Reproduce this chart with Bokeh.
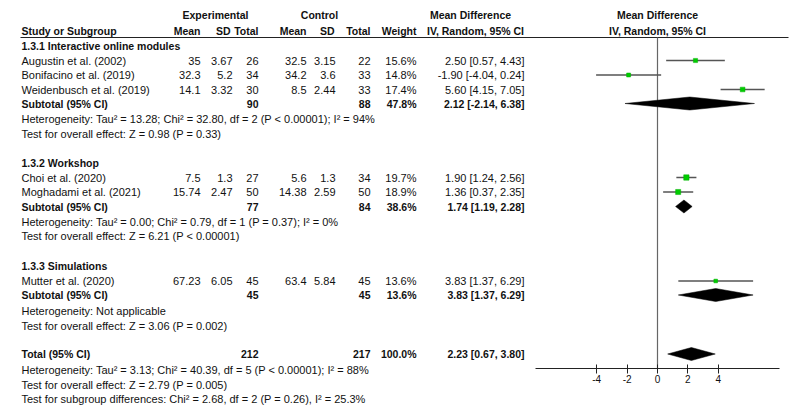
from bokeh.plotting import figure
from bokeh.models import Range1d, LinearAxis, FixedTicker, ColumnDataSource, NumeralTickFormatter
from bokeh.embed import file_html
from bokeh.resources import INLINE
from bokeh.core.properties import value

# ---------------- data ----------------
studies = ["Augustin et al. (2002)", "Bonifacino et al. (2019)", "Weidenbusch et al. (2019)",
           "Choi et al. (2020)", "Moghadami et al. (2021)", "Mutter et al. (2020)"]
exp_mean = [35, 32.3, 14.1, 7.5, 15.74, 67.23]
exp_sd = [3.67, 5.2, 3.32, 1.3, 2.47, 6.05]
exp_n = [26, 34, 30, 27, 50, 45]
ctl_mean = [32.5, 34.2, 8.5, 5.6, 14.38, 63.4]
ctl_sd = [3.15, 3.6, 2.44, 1.3, 2.59, 5.84]
ctl_n = [22, 33, 33, 34, 50, 45]
weight = [15.6, 14.8, 17.4, 19.7, 18.9, 13.6]
md = [2.50, -1.90, 5.60, 1.90, 1.36, 3.83]
md_lo = [0.57, -4.04, 4.15, 1.24, 0.37, 1.37]
md_hi = [4.43, 0.24, 7.05, 2.56, 2.35, 6.29]

subgroups = ["1.3.1 Interactive online modules", "1.3.2 Workshop", "1.3.3 Simulations"]
sub_exp_n = [90, 77, 45]
sub_ctl_n = [88, 84, 45]
sub_weight = [47.8, 38.6, 13.6]
sub_md = [2.12, 1.74, 3.83]
sub_lo = [-2.14, 1.19, 1.37]
sub_hi = [6.38, 2.28, 6.29]
sub_het = ["Heterogeneity: Tau\u00b2 = 13.28; Chi\u00b2 = 32.80, df = 2 (P < 0.00001); I\u00b2 = 94%",
           "Heterogeneity: Tau\u00b2 = 0.00; Chi\u00b2 = 0.79, df = 1 (P = 0.37); I\u00b2 = 0%",
           "Heterogeneity: Not applicable"]
sub_test = ["Test for overall effect: Z = 0.98 (P = 0.33)",
            "Test for overall effect: Z = 6.21 (P < 0.00001)",
            "Test for overall effect: Z = 3.06 (P = 0.002)"]

tot_exp_n = 212
tot_ctl_n = 217
tot_weight = 100.0
tot_md = 2.23
tot_lo = 0.67
tot_hi = 3.80
tot_notes = ["Heterogeneity: Tau\u00b2 = 3.13; Chi\u00b2 = 40.39, df = 5 (P < 0.00001); I\u00b2 = 88%",
             "Test for overall effect: Z = 2.79 (P = 0.005)",
             "Test for subgroup differences: Chi\u00b2 = 2.68, df = 2 (P = 0.26), I\u00b2 = 25.3%"]

axis_ticks = [-4, -2, 0, 2, 4]
axis_bounds = (-8, 8)

# ---------------- layout ----------------
W, H = 800, 416
X0, PXU = 657, 15.2          # pixel of zero effect, pixels per unit
ROW_STUDY = [60, 74.5, 89, 177, 191.5, 280.5]
ROW_SECTION = [45, 162.5, 265.5]
ROW_SUB = [103, 206, 294.5]
ROW_SUB_HET = [118.5, 221, 310]
ROW_SUB_TEST = [133.5, 235.5, 325]
ROW_TOTAL = 353.5
ROW_TOT_NOTES = [369, 384, 398.5]
HDR1, HDR2, HDR_LINE = 14, 30, 37
AXIS_Y = 368

C_NAME, C_EM, C_ESD, C_EN = 21, 200, 232, 258
C_CM, C_CSD, C_CN, C_W, C_CI = 306, 335, 370, 416, 524

FONT = "Liberation Sans"
FS = "11px"
FS_B = "10.5px"
TXT = "#111111"

p = figure(width=W, height=H, x_range=Range1d(0, W), y_range=Range1d(H, 0),
           output_backend="svg", toolbar_location=None, min_border=0,
           x_axis_location=None, y_axis_location=None)
p.extra_x_ranges = {"md": Range1d(-X0 / PXU, (W - X0) / PXU)}
p.grid.visible = False
p.outline_line_color = None
p.background_fill_color = "white"

texts = {}


def put(x, y, s, align="left", bold=False):
    key = (align, bold)
    d = texts.setdefault(key, {"x": [], "y": [], "t": []})
    d["x"].append(x)
    d["y"].append(y)
    d["t"].append(s)


def g(v):
    return f"{v:g}"


def ci(m, lo, hi):
    return f"{m:.2f} [{lo:.2f}, {hi:.2f}]"


# headers
put(215, HDR1, "Experimental", "center", True)
put(319, HDR1, "Control", "center", True)
put(470, HDR1, "Mean Difference", "center", True)
put(X0, HDR1, "Mean Difference", "center", True)
put(C_NAME, HDR2, "Study or Subgroup", "left", True)
for x, s in [(C_EM, "Mean"), (C_ESD - 2, "SD"), (C_EN, "Total"), (C_CM, "Mean"),
             (C_CSD - 1, "SD"), (C_CN, "Total"), (C_W, "Weight")]:
    put(x, HDR2, s, "right", True)
put(475, HDR2, "IV, Random, 95% CI", "center", True)
put(X0, HDR2, "IV, Random, 95% CI", "center", True)

# studies
for i, s in enumerate(studies):
    y = ROW_STUDY[i]
    put(C_NAME, y, s)
    put(C_EM, y, g(exp_mean[i]), "right")
    put(C_ESD, y, g(exp_sd[i]), "right")
    put(C_EN, y, g(exp_n[i]), "right")
    put(C_CM, y, g(ctl_mean[i]), "right")
    put(C_CSD, y, g(ctl_sd[i]), "right")
    put(C_CN, y, g(ctl_n[i]), "right")
    put(C_W, y, f"{weight[i]:.1f}%", "right")
    put(C_CI, y, ci(md[i], md_lo[i], md_hi[i]), "right")

# subgroups
for k, name in enumerate(subgroups):
    put(C_NAME, ROW_SECTION[k], name, "left", True)
    y = ROW_SUB[k]
    put(C_NAME, y, "Subtotal (95% CI)", "left", True)
    put(C_EN, y, g(sub_exp_n[k]), "right", True)
    put(C_CN, y, g(sub_ctl_n[k]), "right", True)
    put(C_W, y, f"{sub_weight[k]:.1f}%", "right", True)
    put(C_CI, y, ci(sub_md[k], sub_lo[k], sub_hi[k]), "right", True)
    put(C_NAME, ROW_SUB_HET[k], sub_het[k])
    put(C_NAME, ROW_SUB_TEST[k], sub_test[k])

# total
put(C_NAME, ROW_TOTAL, "Total (95% CI)", "left", True)
put(C_EN, ROW_TOTAL, g(tot_exp_n), "right", True)
put(C_CN, ROW_TOTAL, g(tot_ctl_n), "right", True)
put(C_W, ROW_TOTAL, f"{tot_weight:.1f}%", "right", True)
put(C_CI, ROW_TOTAL, ci(tot_md, tot_lo, tot_hi), "right", True)
for j, s in enumerate(tot_notes):
    put(C_NAME, ROW_TOT_NOTES[j], s)

for (align, bold), d in texts.items():
    p.text(x="x", y="y", text="t", source=ColumnDataSource(d),
           text_align=align, text_baseline="middle",
           text_font=value(FONT), text_font_size=FS_B if bold else FS,
           text_font_style="bold" if bold else "normal", text_color=TXT)

# header rule
p.segment(x0=[20], y0=[HDR_LINE], x1=[788], y1=[HDR_LINE], line_color="#222", line_width=1)

# zero line
p.segment(x0=[0], y0=[HDR_LINE], x1=[0], y1=[AXIS_Y], x_range_name="md",
          line_color="#666", line_width=1.2)

# study CIs and squares
p.segment(x0=md_lo, y0=ROW_STUDY, x1=md_hi, y1=ROW_STUDY, x_range_name="md",
          line_color="#555", line_width=1.3)
p.scatter(x=md, y=ROW_STUDY, marker="square", size=[w * 0.27 for w in weight],
          fill_color="#00cc00", line_color="#00b000", line_width=0.5, x_range_name="md")

# diamonds
DH = 6.5
dx = [[lo, m, hi, m] for lo, m, hi in zip(sub_lo + [tot_lo], sub_md + [tot_md], sub_hi + [tot_hi])]
dy = [[y, y - DH, y, y + DH] for y in ROW_SUB + [ROW_TOTAL]]
p.patches(xs=dx, ys=dy, x_range_name="md", fill_color="black", line_color="black", line_width=0.5)

# axis
ax = LinearAxis(x_range_name="md", fixed_location=AXIS_Y, bounds=axis_bounds,
                ticker=FixedTicker(ticks=axis_ticks), formatter=NumeralTickFormatter(format="0"),
                major_tick_in=4, major_tick_out=5, minor_tick_line_color=None,
                major_label_text_font=FONT, major_label_text_font_size="10px",
                major_label_standoff=1, major_label_text_color=TXT,
                axis_line_color="#222", major_tick_line_color="#222")
p.add_layout(ax, "below")

open("out.html", "w").write(file_html(p, INLINE))
